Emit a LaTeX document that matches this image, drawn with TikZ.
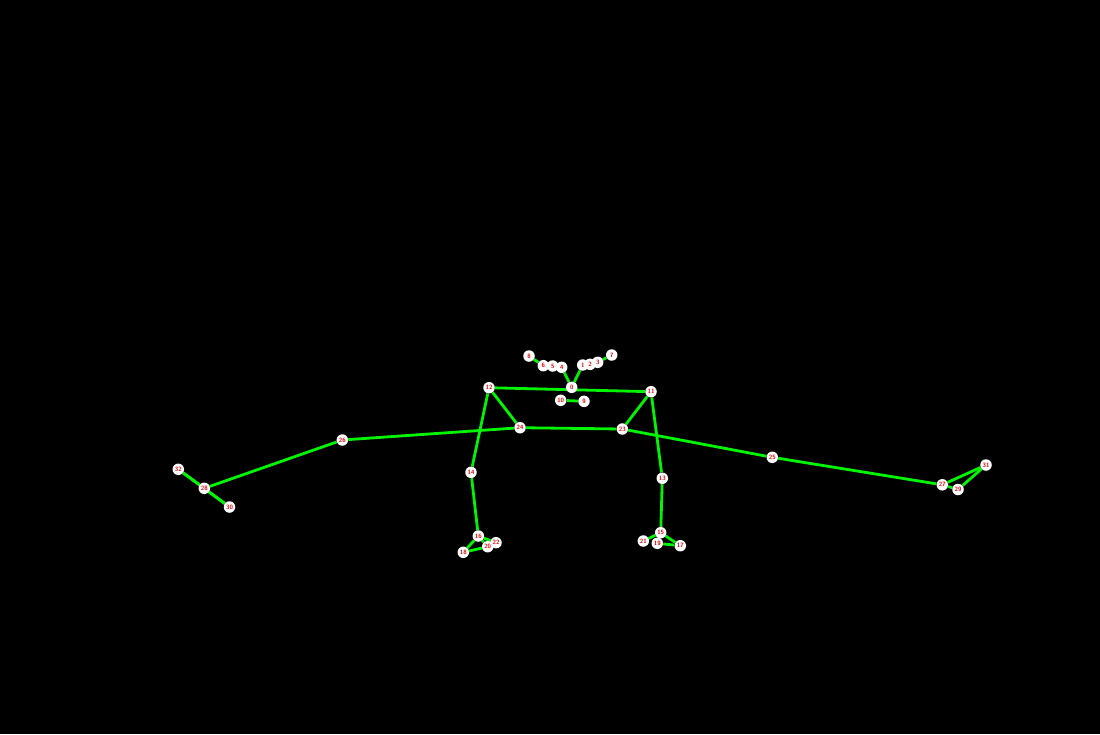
\documentclass[tikz,border=0pt]{standalone}
\usepackage{tikz}
\usetikzlibrary{backgrounds}
\definecolor{bone}{RGB}{0,245,0}
\definecolor{jointred}{RGB}{235,0,0}

\begin{document}
\begin{tikzpicture}[x=1pt,y=-1pt,
  joint/.style={circle,fill=white,inner sep=0pt,minimum size=11.5pt,text=jointred,font=\sffamily\bfseries\fontsize{6.2}{6.2}\selectfont},
  bone line/.style={draw=bone,line width=2.8pt}]

  \useasboundingbox (0,0) rectangle (1100,734);

  % head
  \node[joint] (0) at (571.7,387.3) {0};
  \node[joint] (1) at (582.7,365) {1};
  \node[joint] (2) at (590,364.3) {2};
  \node[joint] (3) at (597.7,362.3) {3};
  \node[joint] (4) at (561.7,367.3) {4};
  \node[joint] (5) at (552.7,366) {5};
  \node[joint] (6) at (543.3,365.7) {6};
  \node[joint] (7) at (611.7,355) {7};
  \node[joint] (8) at (529,356) {8};
  \node[joint] (9) at (584,401.3) {9};
  \node[joint] (10) at (560.7,400.3) {10};

  % upper body
  \node[joint] (11) at (651,391.7) {11};
  \node[joint] (12) at (489,387.7) {12};
  \node[joint] (13) at (662.3,478.3) {13};
  \node[joint] (14) at (471,472.3) {14};
  \node[joint] (15) at (660.7,532.7) {15};
  \node[joint] (16) at (478.3,536) {16};
  \node[joint] (17) at (680.3,545.7) {17};
  \node[joint] (18) at (463.3,552.3) {18};
  \node[joint] (19) at (657.3,543.3) {19};
  \node[joint] (20) at (487.7,546.7) {20};
  \node[joint] (21) at (643.3,541) {21};
  \node[joint] (22) at (496,542.7) {22};

  % lower body
  \node[joint] (23) at (622.3,429) {23};
  \node[joint] (24) at (520,427.7) {24};
  \node[joint] (25) at (772.3,457.3) {25};
  \node[joint] (26) at (342.3,440) {26};
  \node[joint] (27) at (942.3,484.8) {27};
  \node[joint] (28) at (204.3,488.3) {28};
  \node[joint] (29) at (958,489.5) {29};
  \node[joint] (30) at (229.5,507) {30};
  \node[joint] (31) at (986,465) {31};
  \node[joint] (32) at (178.3,469.3) {32};

  \begin{scope}[on background layer]
    \fill[black] (0,0) rectangle (1100,734);
    \path[every edge/.style={bone line}]
      (0) edge (1) edge (4)
      (1) edge (2)  (2) edge (3)  (3) edge (7)
      (4) edge (5)  (5) edge (6)  (6) edge (8)
      (9) edge (10)
      (11) edge (12) edge (13) edge (23)
      (12) edge (14) edge (24)
      (13) edge (15)
      (14) edge (16)
      (15) edge (17) edge (19) edge (21)
      (16) edge (18) edge (20) edge (22)
      (17) edge (19)
      (18) edge (20)
      (23) edge (24) edge (25)
      (24) edge (26)
      (25) edge (27)
      (26) edge (28)
      (27) edge (29) edge (31)
      (28) edge (30) edge (32)
      (29) edge (31)
      (30) edge (32);
  \end{scope}

\end{tikzpicture}
\end{document}
